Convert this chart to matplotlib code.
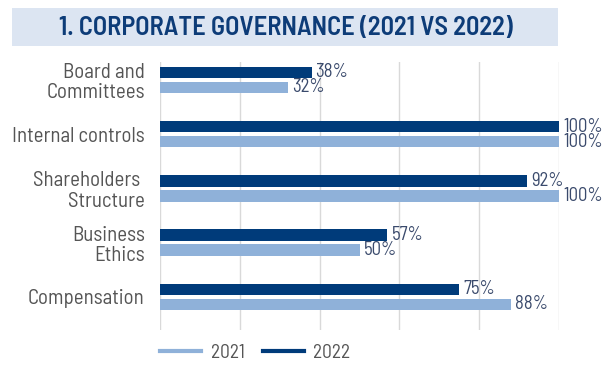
import matplotlib.pyplot as plt
from matplotlib.patches import Rectangle
from matplotlib.lines import Line2D
import numpy as np

categories = ['Board and\nCommittees', 'Internal controls', 'Shareholders \nStructure',
              'Business\nEthics', 'Compensation']
vals_2021 = [32, 100, 100, 50, 88]
vals_2022 = [38, 100, 92, 57, 75]

DARK = '#003b7a'
LIGHT = '#8fb1d9'
LABEL = '#3a4a6c'
GRAY = '#555555'
BAND = '#dce5f2'
TITLE = '#0d3c78'

FONT = 'Barlow Semi Condensed'

fig = plt.figure(figsize=(6.09, 3.65), dpi=100)
fig.patch.set_facecolor('white')

# title band
fig.patches.append(Rectangle((12/609, 1-46/365), (558-12)/609, 38/365,
                             transform=fig.transFigure, facecolor=BAND,
                             edgecolor='none', zorder=0))
fig.text(286/609, 1-28/365, '1. CORPORATE GOVERNANCE (2021 VS 2022)',
         ha='center', va='center', fontsize=19, fontweight='semibold',
         color=TITLE, family=FONT)

ax = fig.add_axes([160/609, 1-330/365, (559-160)/609, (330-62)/365])
y = np.arange(len(categories))
h = 0.212
off = 0.138
ax.barh(y - off, vals_2022, height=h, color=DARK, zorder=3)
ax.barh(y + off, vals_2021, height=h, color=LIGHT, zorder=3)

# value labels, 2022 above / 2021 below
for yi, v in zip(y, vals_2022):
    ax.text(v + 1.0, yi - off, f'{v}%', va='center', ha='left',
            fontsize=13.5, color=LABEL, family=FONT, clip_on=False)
for yi, v in zip(y, vals_2021):
    ax.text(v + 1.0, yi + off, f'{v}%', va='center', ha='left',
            fontsize=13.5, color=LABEL, family=FONT, clip_on=False)

ax.set_xlim(0, 100)
ax.set_ylim(4.61, -0.33)
ax.set_xticks(np.arange(0, 101, 20))
ax.set_xticklabels([])
ax.tick_params(axis='x', length=0)
ax.set_yticks(y)
ax.set_yticklabels(categories, fontsize=15, color=GRAY, family=FONT,
                   linespacing=1.1)
ax.tick_params(axis='y', length=0, pad=11)
ax.grid(axis='x', color='#d9d9d9', lw=1, zorder=0)
for s in ax.spines.values():
    s.set_visible(False)

handles = [Line2D([], [], color=LIGHT, lw=3), Line2D([], [], color=DARK, lw=3)]
leg = fig.legend(handles, ['2021', '2022'], loc='center left',
                 bbox_to_anchor=(160/609, 1-353/365), ncol=2, frameon=False,
                 borderpad=0, borderaxespad=0,
                 handlelength=2.1, columnspacing=0.95, handletextpad=0.5,
                 prop={'family': FONT, 'size': 14})
for t in leg.get_texts():
    t.set_color(GRAY)

fig.savefig('out.png', dpi=100, facecolor='white')
